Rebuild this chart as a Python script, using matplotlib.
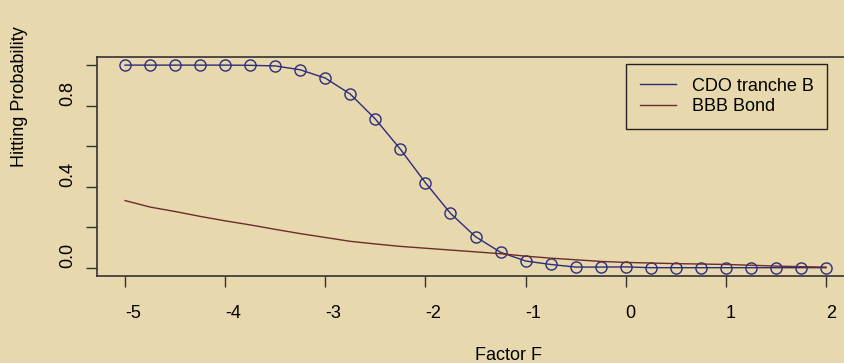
import numpy as np
import matplotlib
matplotlib.use("Agg")
import matplotlib.pyplot as plt

# factor grid (step 0.25) and the two curves
factor = np.arange(-5, 2.01, 0.25)
cdo_b = [1.0, 1.0, 1.0, 1.0, 1.0, 0.999, 0.996, 0.977, 0.936, 0.857,
         0.734, 0.585, 0.420, 0.269, 0.154, 0.077, 0.034, 0.017, 0.004,
         0.004, 0.005, 0.001, 0.001, 0.001, 0.001, 0.001, 0.001, 0.001, 0.001]
bbb_bond = [0.332, 0.300, 0.278, 0.254, 0.232, 0.212, 0.190, 0.169, 0.150,
            0.131, 0.118, 0.106, 0.097, 0.088, 0.079, 0.070, 0.058, 0.048,
            0.040, 0.032, 0.027, 0.024, 0.021, 0.019, 0.017, 0.013, 0.009,
            0.006, 0.004]
xticks = [-5, -4, -3, -2, -1, 0, 1, 2]
yticks = [0.0, 0.2, 0.4, 0.6, 0.8, 1.0]
ytick_labels = ["0.0", "", "0.4", "", "0.8", ""]

bg = "#e8d8ae"
blue = "#2c2c7c"
brown = "#6b2c2c"

plt.rcParams["font.family"] = ["Liberation Sans", "DejaVu Sans"]
plt.rcParams["font.size"] = 13
plt.rcParams["axes.unicode_minus"] = False

W, H = 845, 363
fig = plt.figure(figsize=(W / 100, H / 100), dpi=100, facecolor=bg)
# the plot box runs past the right edge, as in the original crop
ax = fig.add_axes([97 / W, 87 / H, (854 - 97) / W, (276 - 57) / H])
ax.set_facecolor(bg)

ax.plot(factor, cdo_b, color=blue, lw=1.0, label="CDO tranche B")
ax.plot(factor, cdo_b, ls="none", marker="o", ms=8,
        mfc="none", mec=blue, mew=1.0)
ax.plot(factor, bbb_bond, color=brown, lw=1.0, label="BBB Bond")

ax.set_xlim(-5.28, 2.28)
ax.set_ylim(-0.04, 1.04)
ax.set_xticks(xticks)
ax.set_xticklabels([str(v) for v in xticks])
ax.set_yticks(yticks)
ax.set_yticklabels(ytick_labels)
# text in the original starts at the tick rather than being centred on it
for lbl in ax.get_xticklabels():
    lbl.set_ha("left")
for lbl in ax.get_yticklabels():
    lbl.set_rotation(90)
    lbl.set_va("bottom")

ax.tick_params(axis="both", direction="out", length=8, width=1, color="#333333")
ax.tick_params(axis="x", pad=13)
ax.tick_params(axis="y", pad=7)
for s in ax.spines.values():
    s.set_color("#333333")
    s.set_linewidth(1.2)

fig.text(20 / W, 1 - 167 / H, "Hitting Probability", rotation=90,
         ha="center", va="bottom")
fig.text(475 / W, 3 / H, "Factor F", ha="left", va="baseline")

leg = ax.legend(loc="upper left", bbox_to_anchor=(626 / W, 1 - 64 / H),
                bbox_transform=fig.transFigure, borderaxespad=0,
                fancybox=False, framealpha=1, facecolor=bg, edgecolor="#222222",
                handlelength=2.0, handletextpad=0.9, borderpad=0.75,
                labelspacing=0.2)
leg.get_frame().set_linewidth(1.0)

fig.savefig("out.png", dpi=100, facecolor=bg)
